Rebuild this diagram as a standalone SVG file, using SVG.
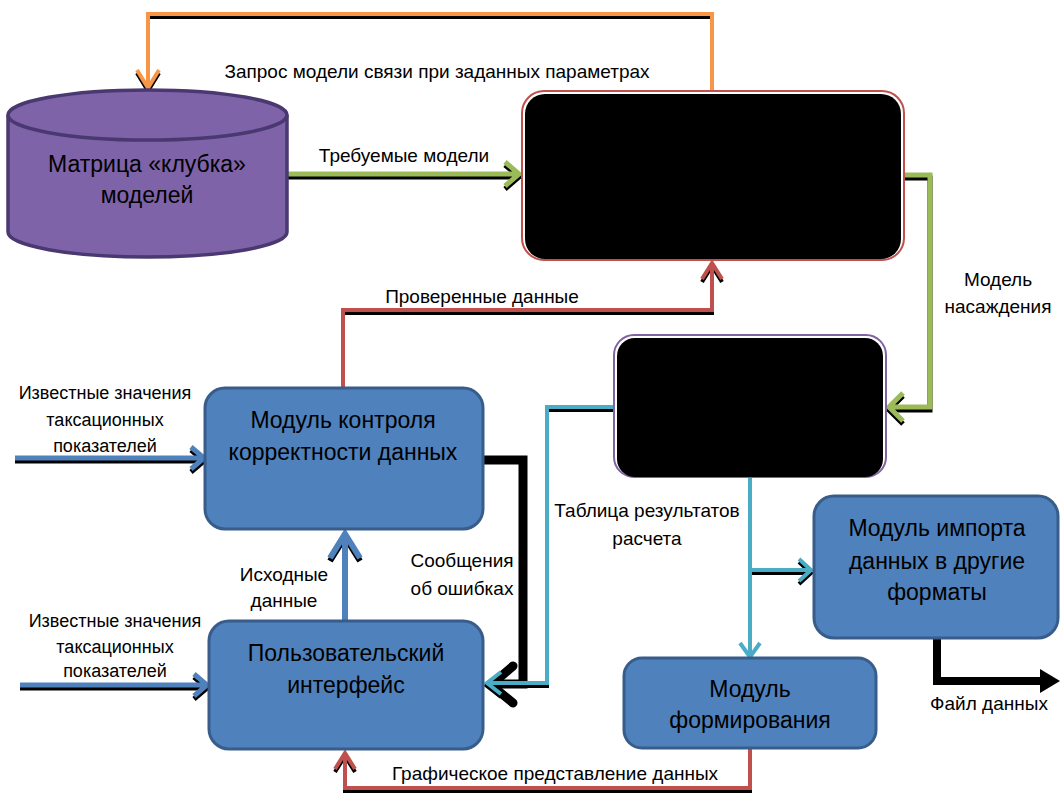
<svg xmlns="http://www.w3.org/2000/svg" width="1061" height="793" viewBox="0 0 1061 793">
<style>
text{font-family:"Liberation Sans",Arial,sans-serif;fill:#000}
.lbl{font-size:19px}
.sm{font-size:18px}
.box{font-size:23px}
.node{fill:#4f81bd;stroke:#385d8a;stroke-width:3}
.sh{fill:none;stroke:#000;stroke-linejoin:miter}
.ln{fill:none;stroke-linejoin:miter}
.or{stroke:#f79646}
.gr{stroke:#9bbb59}
.rd{stroke:#c0504d}
.bl{stroke:#4f81bd}
.cy{stroke:#4bacc6}
</style>
<rect width="1061" height="793" fill="#fff"/>

<g id="connectors">
  <!-- orange: request -->
  <g>
    <path class="sh" stroke-width="4" transform="translate(0,3)" d="M712,90 V14 H148 V88 M137,70 L148,88 L159,70"/>
    <path class="ln or" stroke-width="4" d="M712,90 V14 H148 V88 M137,70 L148,88 L159,70"/>
  </g>
  <!-- green: required models -->
  <g>
    <path class="sh" stroke-width="5" transform="translate(0,3)" d="M287,174 H518 M505,162 L519,174 L505,186"/>
    <path class="ln gr" stroke-width="5" d="M287,174 H518 M505,162 L519,174 L505,186"/>
  </g>
  <!-- green: stand model -->
  <g>
    <path class="sh" stroke-width="5" transform="translate(0,3)" d="M904,175 H930 V407 H890 M903,393 L889,407 L903,421"/>
    <path class="ln gr" stroke-width="5" d="M904,175 H930 V407 H890 M903,393 L889,407 L903,421"/>
  </g>
  <!-- red: verified data -->
  <g>
    <path class="sh" stroke-width="4" transform="translate(0,3)" d="M343,387 V310 H712 V263 M702,279 L712,263 L722,279"/>
    <path class="ln rd" stroke-width="4" d="M343,387 V310 H712 V263 M702,279 L712,263 L722,279"/>
  </g>
  <!-- blue: known values top -->
  <g>
    <path class="sh" stroke-width="5" transform="translate(0,3)" d="M15,458 H202 M191,447 L204,458 L191,469"/>
    <path class="ln bl" stroke-width="5" d="M15,458 H202 M191,447 L204,458 L191,469"/>
  </g>
  <!-- blue: known values bottom -->
  <g>
    <path class="sh" stroke-width="5" transform="translate(0,3)" d="M20,685 H205 M194,674 L207,685 L194,696"/>
    <path class="ln bl" stroke-width="5" d="M20,685 H205 M194,674 L207,685 L194,696"/>
  </g>
  <!-- blue: source data up -->
  <g>
    <path class="sh" stroke-width="6" transform="translate(0,3)" d="M345,620 V534 M330,558 L345,534 L360,558"/>
    <path class="ln bl" stroke-width="6" d="M345,620 V534 M330,558 L345,534 L360,558"/>
  </g>
  <!-- black: error messages -->
  <g>
    <path class="ln" stroke="#000" stroke-width="9" d="M483,460 H523 V684 H494"/>
    <path class="ln" stroke="#000" stroke-width="9" stroke-linecap="round" d="M513,666 L491,685 L513,703"/>
  </g>
  <!-- cyan: results table to UI -->
  <g>
    <path class="sh" stroke-width="4" transform="translate(0,3)" d="M613,407 H547 V683 H488 M501,672 L487,683 L501,694"/>
    <path class="ln cy" stroke-width="4" d="M613,407 H547 V683 H488 M501,672 L487,683 L501,694"/>
  </g>
  <!-- cyan: down to forming module and import module -->
  <g>
    <path class="sh" stroke-width="4" transform="translate(0,3)" d="M750,570 H810 M799,559 L811,570 L799,581"/>
    <path class="ln cy" stroke-width="4" d="M750,477 V656 M740,643 L750,657 L760,643"/>
    <path class="ln cy" stroke-width="4" d="M750,570 H810 M799,559 L811,570 L799,581"/>
  </g>
  <!-- red: graphical representation -->
  <g>
    <path class="sh" stroke-width="4" transform="translate(0,3)" d="M750,748 V788 H345 V753 M335,769 L345,753 L355,769"/>
    <path class="ln rd" stroke-width="4" d="M750,748 V788 H345 V753 M335,769 L345,753 L355,769"/>
  </g>
  <!-- black: data file -->
  <g>
    <path class="ln" stroke="#000" stroke-width="8" d="M937,638 V681 H1042"/>
    <polygon points="1040,669 1060,681 1040,693" fill="#000"/>
  </g>
</g>

<g id="matrix">
  <path d="M8,115 V232 A139.5,25 0 0 0 287,232 V115" fill="#7e63a9" stroke="#4a3870" stroke-width="3.5"/>
  <ellipse cx="147.5" cy="115" rx="139.5" ry="25" fill="#7e63a9" stroke="#4a3870" stroke-width="3.5"/>
  <text class="box" x="147" y="172" text-anchor="middle">Матрица «клубка»</text>
  <text class="box" x="147" y="203" text-anchor="middle">моделей</text>
</g>

<g id="blackbox1">
  <rect x="522" y="91" width="382" height="169" rx="22" fill="#fff" stroke="#c0504d" stroke-width="2"/>
  <rect x="525" y="94" width="376" height="165" rx="20" fill="#000"/>
</g>

<g id="blackbox2">
  <rect x="614" y="335" width="272" height="142" rx="20" fill="#fff" stroke="#8064a2" stroke-width="2"/>
  <rect x="617" y="338" width="266" height="139" rx="18" fill="#000"/>
</g>

<g id="control">
  <rect class="node" x="205" y="388" width="278" height="141" rx="20"/>
  <text class="box" x="343" y="428" text-anchor="middle">Модуль контроля</text>
  <text class="box" x="343" y="460" text-anchor="middle">корректности данных</text>
</g>

<g id="ui">
  <rect class="node" x="209" y="621" width="274" height="128" rx="20"/>
  <text class="box" x="346" y="661" text-anchor="middle">Пользовательский</text>
  <text class="box" x="346" y="693" text-anchor="middle">интерфейс</text>
</g>

<g id="import">
  <rect class="node" x="814" y="496" width="244" height="142" rx="20"/>
  <text class="box" x="937" y="536" text-anchor="middle">Модуль импорта</text>
  <text class="box" x="937" y="569" text-anchor="middle">данных в другие</text>
  <text class="box" x="937" y="600" text-anchor="middle">форматы</text>
</g>

<g id="forming">
  <rect class="node" x="624" y="658" width="252" height="90" rx="18"/>
  <text class="box" x="750" y="697" text-anchor="middle">Модуль</text>
  <text class="box" x="750" y="728" text-anchor="middle">формирования</text>
</g>

<g id="labels">
  <text class="lbl" x="437" y="78" text-anchor="middle">Запрос модели связи при заданных параметрах</text>
  <text class="lbl" x="404" y="162" text-anchor="middle">Требуемые модели</text>
  <text class="lbl" x="482" y="303" text-anchor="middle">Проверенные данные</text>
  <text class="lbl" x="998" y="286" text-anchor="middle">Модель</text>
  <text class="lbl" x="998" y="313" text-anchor="middle">насаждения</text>
  <text class="sm" x="105" y="399" text-anchor="middle">Известные значения</text>
  <text class="sm" x="105" y="426" text-anchor="middle">таксационных</text>
  <text class="sm" x="105" y="452" text-anchor="middle">показателей</text>
  <text class="sm" x="115" y="627" text-anchor="middle">Известные значения</text>
  <text class="sm" x="115" y="653" text-anchor="middle">таксационных</text>
  <text class="sm" x="115" y="677" text-anchor="middle">показателей</text>
  <text class="lbl" x="284" y="581" text-anchor="middle">Исходные</text>
  <text class="lbl" x="284" y="607" text-anchor="middle">данные</text>
  <text class="lbl" x="462" y="567" text-anchor="middle">Сообщения</text>
  <text class="lbl" x="462" y="595" text-anchor="middle">об ошибках</text>
  <text class="lbl" x="647" y="517" text-anchor="middle">Таблица результатов</text>
  <text class="lbl" x="647" y="545" text-anchor="middle">расчета</text>
  <text class="lbl" x="555" y="780" text-anchor="middle">Графическое представление данных</text>
  <text class="lbl" x="989" y="710" text-anchor="middle">Файл данных</text>
</g>
</svg>
